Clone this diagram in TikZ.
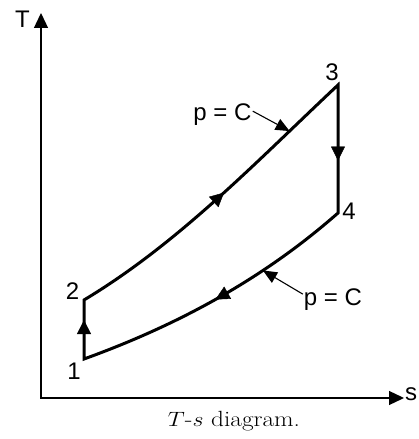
\documentclass[tikz,border=0pt]{standalone}
\usepackage{fontspec}
\usepackage{graphicx}
\newfontfamily\labelfont{Liberation Sans}
\usetikzlibrary{arrows.meta,decorations.markings}

\begin{document}
\begin{tikzpicture}[x=1pt, y=1pt,
		axis/.style={line width=1.3pt, {Triangle[length=15pt,width=14pt]}-{Triangle[length=15pt,width=14pt]}},
		cycleline/.style={line width=3pt, line join=miter},
		midarrow/.style={postaction={decorate}, decoration={markings,
					mark=at position #1 with {\arrow{Triangle[length=14pt,width=14pt]}}}},
		pointer/.style={line width=1.1pt, -{Triangle[length=14pt,width=12pt]}},
		statelabel/.style={font=\labelfont\fontsize{24}{29}\selectfont, inner sep=0pt},
		plabel/.style={font=\labelfont\fontsize{24}{29}\selectfont, inner sep=1pt, anchor=base}]
	\useasboundingbox (0,0) rectangle (418,439);

	% axes
	\coordinate (origin) at (41,41);
	\coordinate (ttop) at (41,426);
	\coordinate (send) at (404,41);
	\draw[axis] (ttop) -- (origin) -- (send);
	\node[statelabel] (tlabel) at (22.5,419.5) {T};
	\node[statelabel, anchor=west] (slabel) at (405,45) {s};

	% cycle
	\coordinate (p1) at (84,80);
	\coordinate (p2) at (84,139);
	\coordinate (p3) at (338,354);
	\coordinate (p4) at (338,226);
	\draw[cycleline] (p1) -- (p2) .. controls (179,196) and (257,278) .. (p3)
		-- (p4) .. controls (263,160) and (178,114) .. (p1) -- cycle;

	\path[midarrow=0.66] (p1) -- (p2);
	\path[midarrow=0.53] (p2) .. controls (179,196) and (257,278) .. (p3) coordinate[pos=0.8] (c23);
	\path[midarrow=0.59] (p3) -- (p4);
	\path[midarrow=0.51] (p4) .. controls (263,160) and (178,114) .. (p1) coordinate[pos=0.32] (c41);

	\node[statelabel] (n1) at (74,68) {1};
	\node[statelabel] (n2) at (72.5,148) {2};
	\node[statelabel] (n3) at (332,366.5) {3};
	\node[statelabel] (n4) at (349,228) {4};

	% constant pressure lines
	\node[plabel] (pupper) at (222.5,318) {p = C};
	\node[plabel] (plower) at (333,133) {p = C};
	\draw[pointer] ([yshift=4pt]pupper.east) -- (c23);
	\draw[pointer] ([yshift=6pt]plower.west) -- (c41);

	\node (caption) at (234,17.5) {\scalebox{1.15}[1]{\fontsize{22}{26}\selectfont $T$-$s$ diagram.}};
\end{tikzpicture}
\end{document}
